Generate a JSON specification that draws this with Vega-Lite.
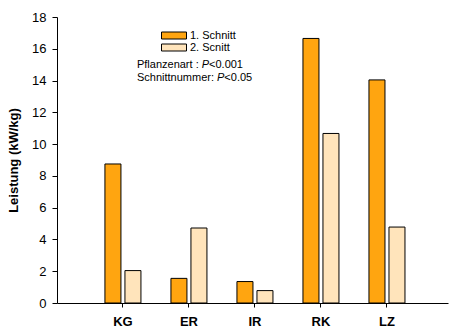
{
  "$schema": "https://vega.github.io/schema/vega-lite/v6.json",
  "width": 391,
  "height": 286,
  "autosize": {"type": "none"},
  "padding": {"left": 57, "top": 17, "right": 2, "bottom": 24},
  "config": {
    "font": "Liberation Sans",
    "view": {"stroke": null},
    "axis": {"labelFont": "Liberation Sans", "titleFont": "Liberation Sans", "domainColor": "#000", "tickColor": "#000", "labelColor": "#000", "titleColor": "#000", "grid": false},
    "axisY": {"tickCount": 10, "labelOverlap": false, "labelFlush": false, "labelFontSize": 13, "tickSize": 5, "labelPadding": 6, "titleFontSize": 13, "titleFontWeight": "bold", "titlePadding": 11},
    "legend": {"labelFont": "Liberation Sans", "labelColor": "#000"}
  },
  "layer": [
    {
      "data": {"values": [
        {"Pflanze": "KG", "Schnitt": "1. Schnitt", "Leistung": 8.75},
        {"Pflanze": "KG", "Schnitt": "2. Scnitt", "Leistung": 2.04},
        {"Pflanze": "ER", "Schnitt": "1. Schnitt", "Leistung": 1.55},
        {"Pflanze": "ER", "Schnitt": "2. Scnitt", "Leistung": 4.72},
        {"Pflanze": "IR", "Schnitt": "1. Schnitt", "Leistung": 1.35},
        {"Pflanze": "IR", "Schnitt": "2. Scnitt", "Leistung": 0.78},
        {"Pflanze": "RK", "Schnitt": "1. Schnitt", "Leistung": 16.65},
        {"Pflanze": "RK", "Schnitt": "2. Scnitt", "Leistung": 10.67},
        {"Pflanze": "LZ", "Schnitt": "1. Schnitt", "Leistung": 14.04},
        {"Pflanze": "LZ", "Schnitt": "2. Scnitt", "Leistung": 4.78}
      ]},
      "mark": {"type": "bar", "stroke": "#000", "strokeWidth": 1},
      "encoding": {
        "x": {"field": "Pflanze", "type": "nominal", "sort": ["KG", "ER", "IR", "RK", "LZ"],
          "scale": {"paddingInner": 0.4545, "paddingOuter": 0.689, "align": 0.527},
          "axis": {"title": null, "labelAngle": 0, "labelFontSize": 13, "labelFontWeight": "bold", "tickSize": 4, "labelPadding": 8}},
        "xOffset": {"field": "Schnitt", "type": "nominal", "scale": {"paddingInner": 0.2}},
        "y": {"field": "Leistung", "type": "quantitative", "scale": {"domain": [0, 18], "nice": false},
          "axis": {"title": "Leistung (kW/kg)", "values": [0, 2, 4, 6, 8, 10, 12, 14, 16, 18], "tickCount": 10, "labelOverlap": false}},
        "color": {"field": "Schnitt", "type": "nominal",
          "scale": {"range": ["#ffa510", "#ffe4bb"]},
          "legend": {"title": null, "orient": "none", "legendX": 111.5, "legendY": 13, "symbolType": "M-2.5,-0.7H2.5V0.7H-2.5Z", "symbolSize": 100, "symbolStrokeColor": "#000", "symbolStrokeWidth": 1, "symbolOpacity": 1, "labelFontSize": 11, "labelOffset": 10.5, "rowPadding": 0}}
      }
    },
    {
      "data": {"values": [{"t": "Pflanzenart : ", "v": 15.0}, {"t": "Schnittnummer: ", "v": 14.17}]},
      "mark": {"type": "text", "align": "left", "baseline": "middle", "fontSize": 11, "dx": 14, "color": "#000"},
      "encoding": {"x": {"datum": "KG", "type": "nominal"}, "y": {"field": "v", "type": "quantitative"}, "text": {"field": "t"}}
    },
    {
      "data": {"values": [{"t": "P", "v": 15.0}]},
      "mark": {"type": "text", "align": "left", "baseline": "middle", "fontSize": 11, "fontStyle": "italic", "dx": 78.8, "color": "#000"},
      "encoding": {"x": {"datum": "KG", "type": "nominal"}, "y": {"field": "v", "type": "quantitative"}, "text": {"field": "t"}}
    },
    {
      "data": {"values": [{"t": "<0.001", "v": 15.0}]},
      "mark": {"type": "text", "align": "left", "baseline": "middle", "fontSize": 11, "dx": 86.1, "color": "#000"},
      "encoding": {"x": {"datum": "KG", "type": "nominal"}, "y": {"field": "v", "type": "quantitative"}, "text": {"field": "t"}}
    },
    {
      "data": {"values": [{"t": "P", "v": 14.17}]},
      "mark": {"type": "text", "align": "left", "baseline": "middle", "fontSize": 11, "fontStyle": "italic", "dx": 94.1, "color": "#000"},
      "encoding": {"x": {"datum": "KG", "type": "nominal"}, "y": {"field": "v", "type": "quantitative"}, "text": {"field": "t"}}
    },
    {
      "data": {"values": [{"t": "<0.05", "v": 14.17}]},
      "mark": {"type": "text", "align": "left", "baseline": "middle", "fontSize": 11, "dx": 101.4, "color": "#000"},
      "encoding": {"x": {"datum": "KG", "type": "nominal"}, "y": {"field": "v", "type": "quantitative"}, "text": {"field": "t"}}
    }
  ]
}
